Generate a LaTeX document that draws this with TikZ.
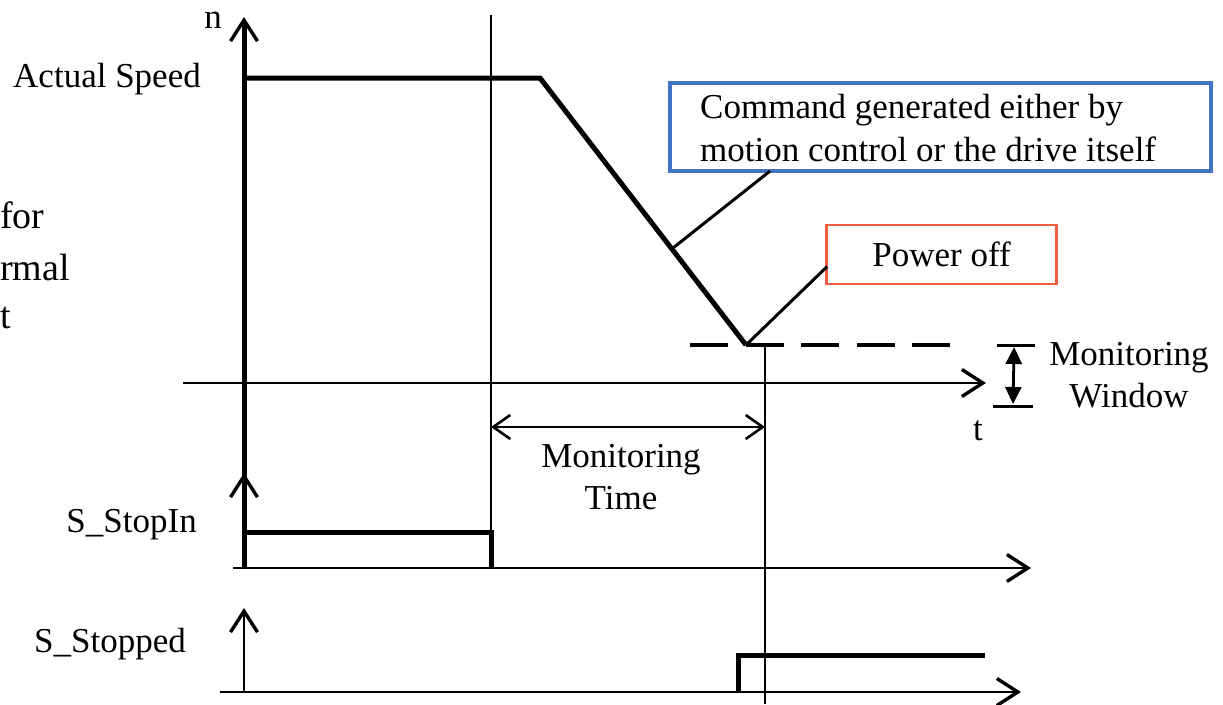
\documentclass[tikz,border=0pt]{standalone}
\usepackage{fontspec}
\setmainfont{Liberation Serif}
\usetikzlibrary{arrows.meta,calc}
\definecolor{boxblue}{RGB}{68,114,196}
\definecolor{boxred}{RGB}{240,92,62}
\begin{document}
\begin{tikzpicture}[x=1pt,y=-1pt,
  txt/.style={font=\fontsize{35}{43}\selectfont, inner sep=0pt, align=center},
  heavy/.style={line width=5pt, line join=miter},
  axisline/.style={line width=2.8pt},
  barb/.style={-{Straight Barb[length=21pt,width=27pt,line width=3.4pt]}},
  thin/.style={line width=1.4pt},
  leader/.style={line width=3pt},
  dimarrow/.style={line width=2.6pt, {Straight Barb[length=17pt,width=24pt]}-{Straight Barb[length=17pt,width=24pt]}},
  winarrow/.style={line width=2.8pt, {Triangle[length=17pt,width=16pt]}-{Triangle[length=17pt,width=16pt]}},
  callout/.style={inner sep=0pt, outer sep=0pt, anchor=north west},
]
\useasboundingbox (0,0) rectangle (1223,704);

% ---------- key points ----------
\coordinate (ntop)    at (244,17);
\coordinate (sinbase) at (244,568);
\coordinate (taxL)    at (183,383);
\coordinate (taxR)    at (986,383);
\coordinate (v1top)   at (491,15);
\coordinate (v1bot)   at (491,532);
\coordinate (spd0)    at (244,78);
\coordinate (spd1)    at (540,78);
\coordinate (vtx)     at (746,345);
\coordinate (dashL)   at (690,345);
\coordinate (dashR)   at (950,345);
\coordinate (v2top)   at (765,345);
\coordinate (v2bot)   at (765,704);

% ---------- left margin text ----------
\node[txt, font=\fontsize{38}{48}\selectfont, anchor=base west] (lf1) at (0,228) {for};
\node[txt, font=\fontsize{38}{48}\selectfont, anchor=base west] (lf2) at (0,280) {rmal};
\node[txt, font=\fontsize{38}{48}\selectfont, anchor=base west] (lf3) at (0,328) {t};

% ---------- speed diagram ----------
\draw[axisline, barb, line width=5pt] (sinbase) -- (ntop);
\draw[axisline, barb] (taxL) -- (taxR);
\node[txt, anchor=base] (nlbl) at (213,28) {n};
\node[txt, anchor=base] (tlbl) at (978,440) {t};
\node[txt, anchor=base east] (speed) at (201,87) {Actual Speed};

\draw[thin] (v1top) -- (v1bot);
\draw[thin] (v2top) -- (v2bot);

\draw[heavy] (spd0) -- (spd1) -- (vtx);
\draw[line width=4pt, dash pattern=on 38pt off 17.5pt] (dashL) -- (dashR);

% command box and its leader
\node[callout, draw=boxblue, line width=3.6pt, minimum width=541pt, minimum height=88pt]
  (cmd) at (670,83) {};
\node[txt, anchor=base west] (cmd1) at (700,118) {Command generated either by};
\node[txt, anchor=base west] (cmd2) at (700,161) {motion control or the drive itself};
\draw[leader] ($(cmd.south west)!0.185!(cmd.south east)$) -- ($(spd1)!0.64!(vtx)$);

% power off box and its leader
\node[txt, draw=boxred, line width=2.6pt, minimum width=230pt, minimum height=59pt]
  (off) at (941.5,254.5) {Power off};
\draw[leader] ($(off.west)+(2,12)$) -- (vtx);

% monitoring window
\coordinate (wt1) at (997,345);  \coordinate (wt2) at (1035,345);
\coordinate (wb1) at (993,406);  \coordinate (wb2) at (1033,406);
\draw[line width=3pt] (wt1) -- (wt2);
\draw[line width=3pt] (wb1) -- (wb2);
\draw[winarrow] ($(wt1)!0.45!(wt2)+(0,2)$) -- ($(wb1)!0.5!(wb2)+(0,-2)$);
\node[txt, anchor=base] (mw1) at (1129,365) {Monitoring};
\node[txt, anchor=base] (mw2) at (1129,407) {Window};

% monitoring time
\coordinate (mtL) at (491,427);
\coordinate (mtR) at (765,427);
\draw[dimarrow] (mtL) -- (mtR);
\node[txt, anchor=base] (mt1) at (621,467) {Monitoring};
\node[txt, anchor=base] (mt2) at (621,509) {Time};

% ---------- S_StopIn ----------
\coordinate (sinarrow) at (244,473);
\draw[axisline, barb] (244,520) -- (sinarrow);
\draw[axisline, barb] (233,568) -- (1031,568);
\draw[heavy] (244,532) -- (491,532) -- (491,568);
\node[txt, anchor=base east] (stopin) at (197,532) {S\_StopIn};

% ---------- S_Stopped ----------
\coordinate (soutbase) at (244,692);
\coordinate (soutarrow) at (244,608);
\draw[axisline, barb] (soutbase) -- (soutarrow);
\draw[axisline, barb] (220,692) -- (1021,692);
\draw[heavy] (738,692) -- (738,655) -- (985,655);
\node[txt, anchor=base east] (stopped) at (186,652) {S\_Stopped};
\end{tikzpicture}
\end{document}
